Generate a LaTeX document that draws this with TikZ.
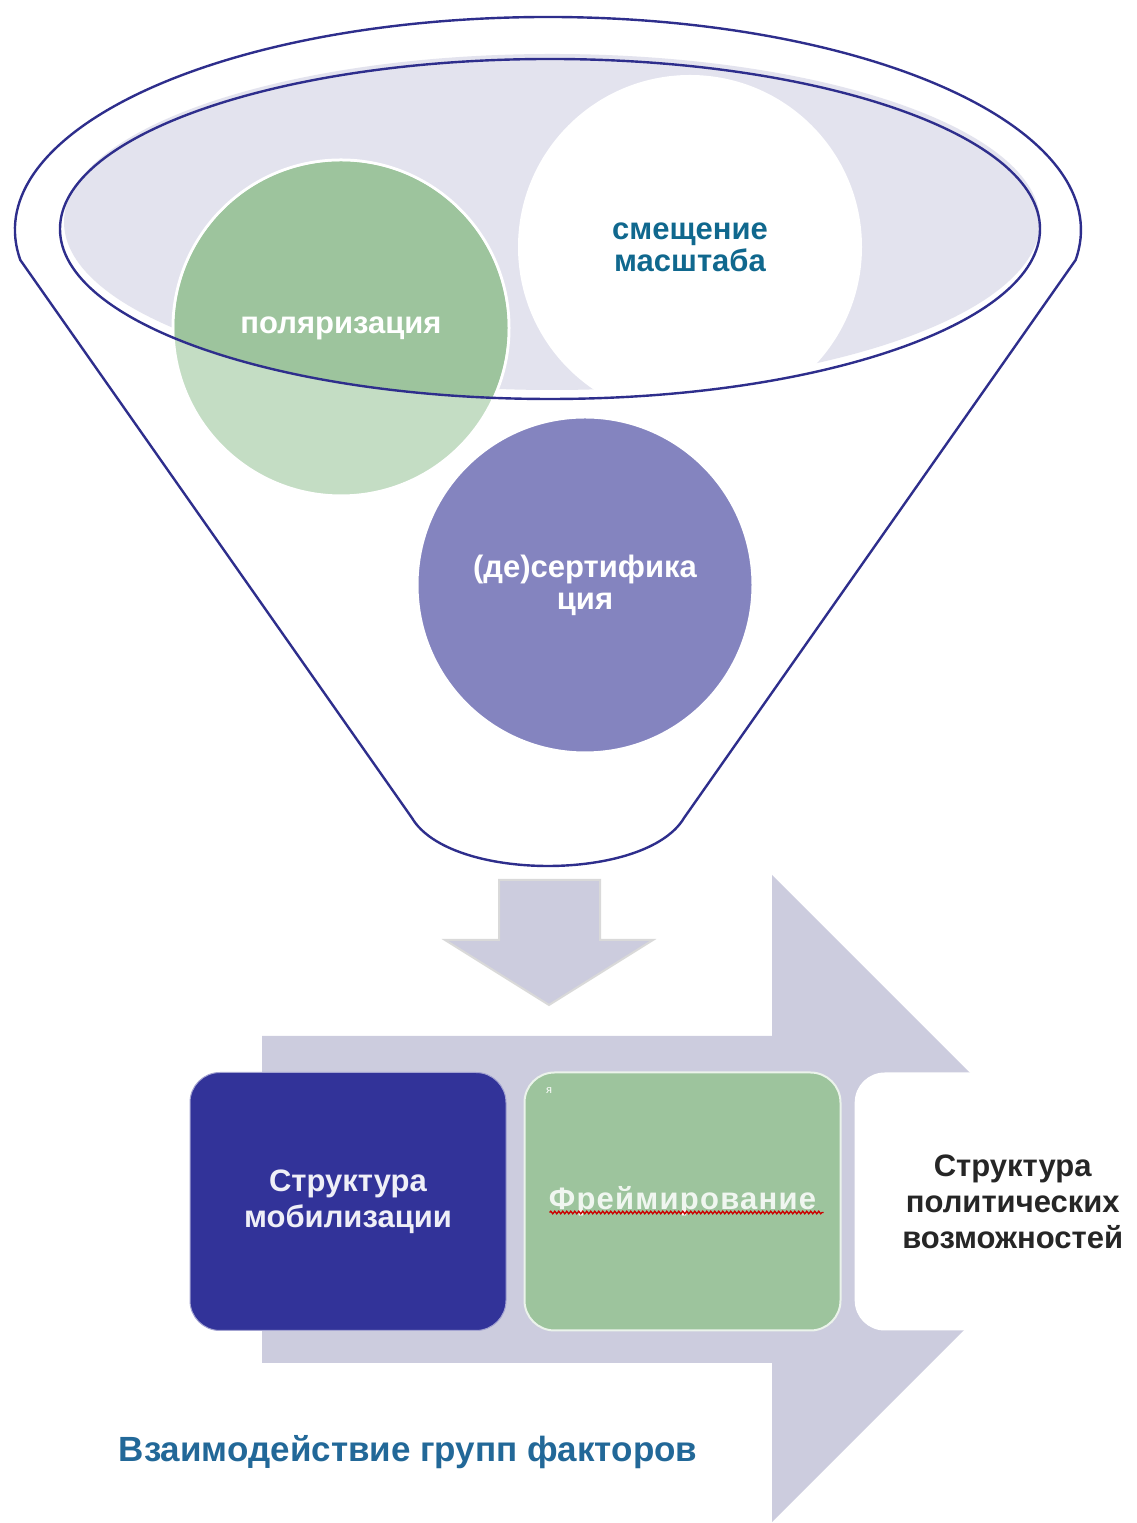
\documentclass[tikz,border=0pt]{standalone}
\usepackage{fontspec}
\setsansfont{Liberation Sans}
\usetikzlibrary{positioning,decorations.pathmorphing}

\definecolor{rimblue}{RGB}{46,46,140}
\definecolor{rimfill}{RGB}{227,227,238}
\definecolor{polgreen}{RGB}{157,196,157}
\definecolor{polgreenlight}{RGB}{196,221,196}
\definecolor{certviolet}{RGB}{132,132,191}
\definecolor{arrowgray}{RGB}{204,204,222}
\definecolor{mobblue}{RGB}{50,51,153}
\definecolor{scaleteal}{RGB}{16,104,142}
\definecolor{factorblue}{RGB}{34,104,152}

\tikzset{
  bubble/.style={circle, minimum size=336pt, inner sep=0pt},
  bubbletext/.style={align=center, font=\sffamily\bfseries\fontsize{31}{32}\selectfont},
  factorbox/.style={rounded corners=30pt, minimum width=316pt, minimum height=258pt,
    align=center, font=\sffamily\bfseries\fontsize{31}{36}\selectfont},
  spellmark/.style={red!80!black, line width=1.3pt, decorate,
    decoration={snake, amplitude=1.3pt, segment length=4pt}}
}

\begin{document}
\begin{tikzpicture}[x=1pt,y=1pt]
  \useasboundingbox (0,0) rectangle (1137,1523);
  \clip (0,0) rectangle (1137,1523);
  % funnel body
  \draw[rimblue, line width=2.4pt, fill=white] (20.3,1263)
      arc[start angle=188.1, end angle=-8.1, x radius=533, y radius=213]
      -- (684,705) .. controls (646,641) and (450,641) .. (412,705) -- cycle;
  % rim of the funnel
  \fill[rimfill] (552,1301) ellipse [x radius=488, y radius=168];
  % the three circles
  \node[bubble, fill=polgreenlight, draw=white, line width=3pt] (polar) at (341,1195) {};
  \begin{scope}
    \clip (550,1294) ellipse [x radius=490, y radius=170];
    \fill[polgreen] (polar.center) circle (166.5);
  \end{scope}
  \node[bubble, fill=white, minimum size=344pt] (shift) at (690,1276) {};
  \draw[rimblue, line width=2.4pt] (550,1294) ellipse [x radius=490, y radius=170];
  \node[bubble, fill=certviolet, draw=white, line width=3pt] (cert) at (585,938) {};
  \node[bubbletext, text=white] at (polar.center) {поляризация};
  \node[bubbletext, text=scaleteal] at (shift.center) {смещение\\масштаба};
  \node[bubbletext, text=white] at (cert.center) {(де)сертифика\\ция};

  % arrow out of the funnel
  \draw[fill=arrowgray, draw=gray!30, line width=2pt] (499,643) -- (600,643)
      -- (600,583) -- (653,583) -- (549,518) -- (445,583) -- (499,583) -- cycle;
  % big arrow behind the boxes
  \fill[arrowgray] (262,487) -- (772,487) -- (772,648) -- (1095.5,324.5)
      -- (772,1) -- (772,160) -- (262,160) -- cycle;

  \node[factorbox, fill=mobblue, draw=mobblue!45!white, line width=1pt,
        text=white!92!mobblue] (mob) at (348,321.5) {Структура\\мобилизации};
  \node[factorbox, fill=polgreen, draw=white!80!polgreen, line width=2pt,
        text=white!85!polgreen, right=17pt of mob] (frame)
        {\addfontfeature{LetterSpace=4}Фреймирование};
  \node[factorbox, fill=white, text=black!85, right=13pt of frame] (opp)
        {Структура\\политических\\возможностей};
  \draw[spellmark] ([xshift=-133pt,yshift=-11pt]frame.center)
      -- ([xshift=141pt,yshift=-11pt]frame.center);
  \node[font=\sffamily\fontsize{11}{11}\selectfont, text=white] (mark) at (549,432) {я};

  \node[font=\sffamily\bfseries\fontsize{35}{36}\selectfont, text=factorblue]
        (interplay) at (408,71) {Взаимодействие групп факторов};
\end{tikzpicture}
\end{document}
